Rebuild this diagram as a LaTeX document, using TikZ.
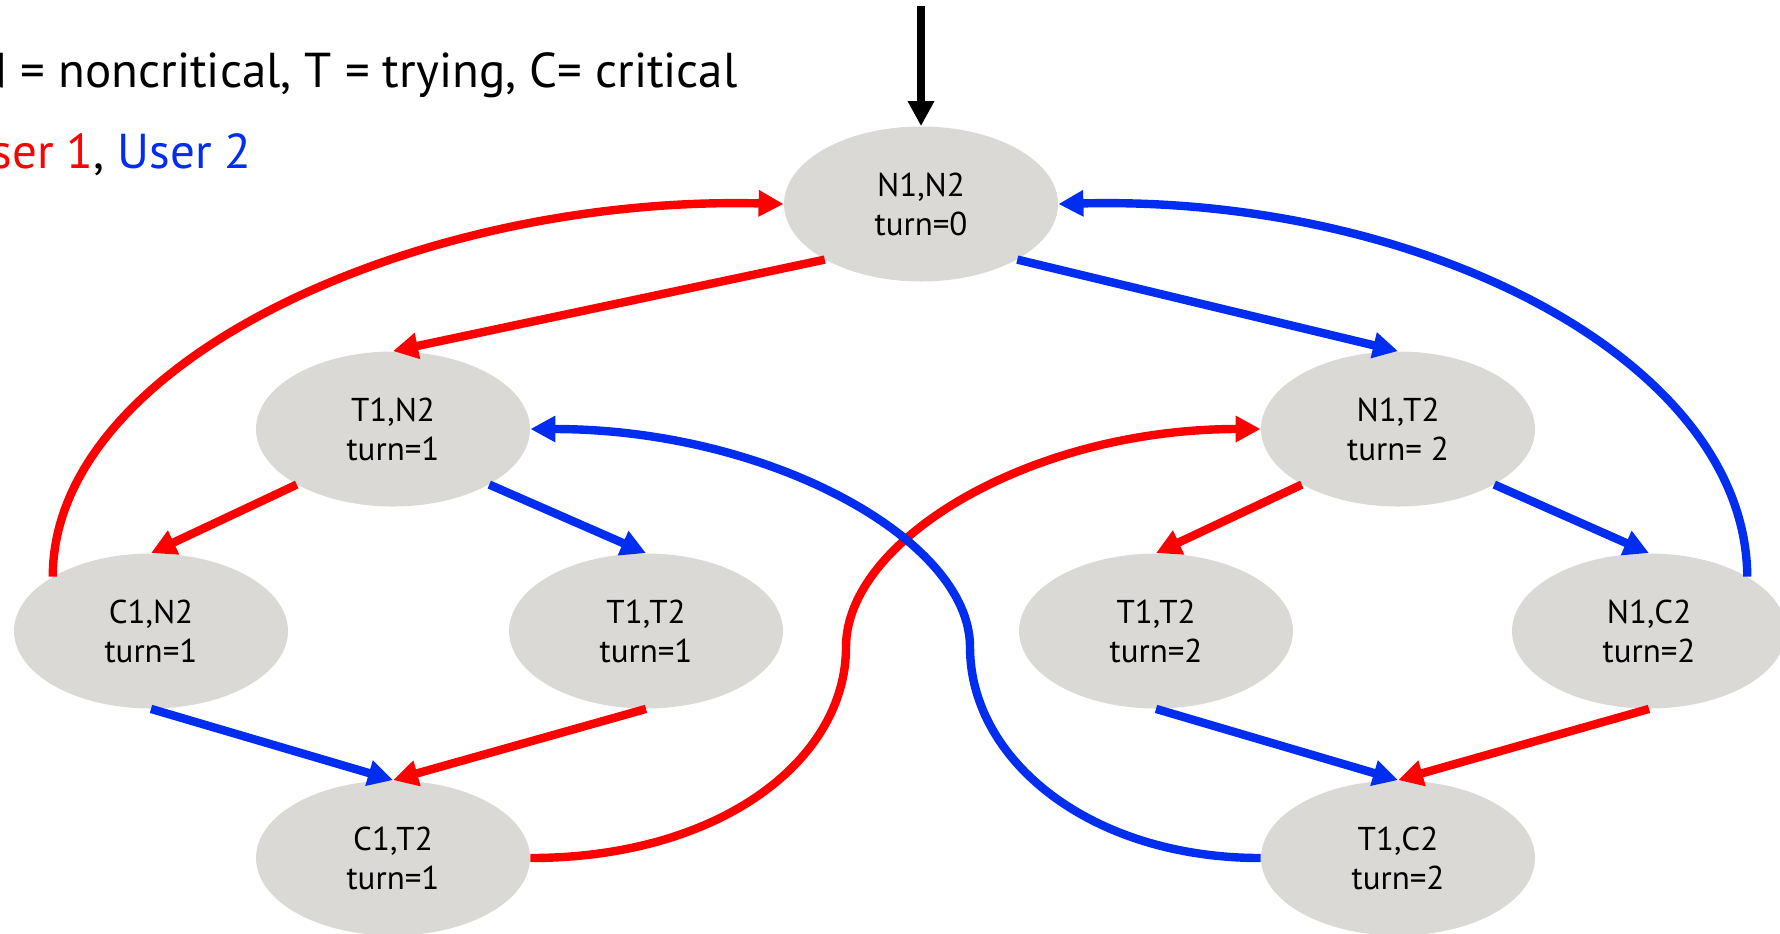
\documentclass[tikz,border=0pt]{standalone}
\usepackage{fontspec}
\setmainfont{PT Sans}
\usetikzlibrary{shapes.geometric,arrows.meta}
\definecolor{ured}{RGB}{255,0,0}
\definecolor{ublue}{RGB}{0,45,240}
\definecolor{stategray}{RGB}{218,217,213}
\begin{document}
\begin{tikzpicture}[x=0.5pt,y=-0.5pt,
  state/.style={ellipse, fill=stategray, minimum width=137pt, minimum height=77.5pt,
    inner sep=0pt, align=center, font=\fontsize{16.5}{19.5}\selectfont},
  conn/.style={line width=4.2pt, -{Triangle[length=12.5pt,width=12.5pt]}},
  redconn/.style={conn, draw=ured},
  blueconn/.style={conn, draw=ublue},
  legend/.style={anchor=base east, inner sep=0pt, font=\fontsize{24.5}{30}\selectfont}]
\useasboundingbox (0,0) rectangle (1780,933);

\node[legend] (leg1) at (738,87) {N = noncritical, T = trying, C= critical};
\node[legend] (leg2) at (252,168) {\textcolor{ured}{User 1}, \textcolor{ublue}{User 2}};

\node[state] (N1N2) at (921,204) {N1,N2\\turn=0};
\node[state] (T1N2) at (393,429) {T1,N2\\turn=1};
\node[state] (N1T2) at (1398,429) {N1,T2\\turn= 2};
\node[state] (C1N2) at (151,631) {C1,N2\\turn=1};
\node[state] (T1T2a) at (646,631) {T1,T2\\turn=1};
\node[state] (T1T2b) at (1156,631) {T1,T2\\turn=2};
\node[state] (N1C2) at (1649,631) {N1,C2\\turn=2};
\node[state] (C1T2) at (393,858) {C1,T2\\turn=1};
\node[state] (T1C2) at (1398,858) {T1,C2\\turn=2};

\coordinate (init) at (921,6);
\draw[conn, draw=black] (init) -- (N1N2.north);

% user 1 (red)
\draw[redconn] (N1N2.210) -- (T1N2.north);
\draw[redconn] (T1N2.210) -- (C1N2.north);
\draw[redconn] (T1T2a.south) -- (C1T2.north);
\draw[redconn] (N1T2.210) -- (T1T2b.north);
\draw[redconn] (N1C2.south) -- (T1C2.north);
\draw[redconn] (C1N2.151) .. controls (53,360) and (420,195) .. (N1N2.west);
\draw[redconn] (C1T2.east) .. controls (720,858) and (846,760) .. (846,647)
   .. controls (846,540) and (1030,429) .. (N1T2.west);

% user 2 (blue)
\draw[blueconn] (N1N2.330) -- (N1T2.north);
\draw[blueconn] (T1N2.330) -- (T1T2a.north);
\draw[blueconn] (C1N2.south) -- (C1T2.north);
\draw[blueconn] (N1T2.330) -- (N1C2.north);
\draw[blueconn] (T1T2b.south) -- (T1C2.north);
\draw[blueconn] (N1C2.29) .. controls (1746,360) and (1422,195) .. (N1N2.east);
\draw[blueconn] (T1C2.west) .. controls (1090,858) and (970,760) .. (970,647)
   .. controls (970,540) and (770,429) .. (T1N2.east);
\end{tikzpicture}
\end{document}
